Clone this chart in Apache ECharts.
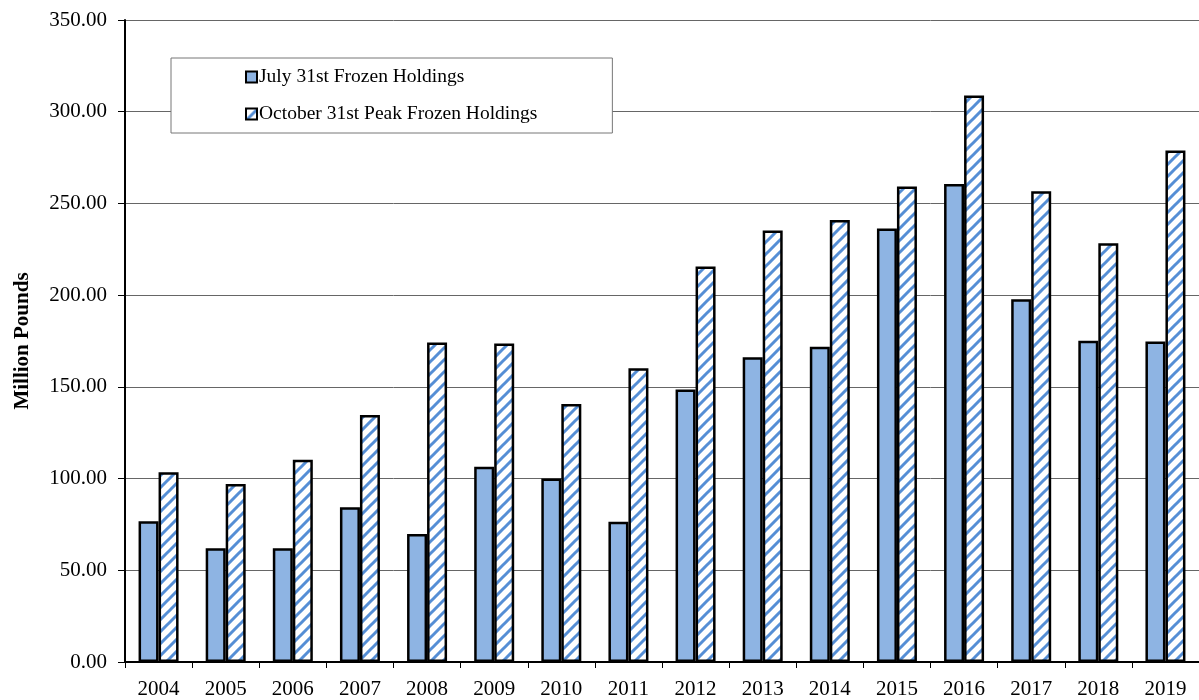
<!DOCTYPE html>
<html>
<head>
<meta charset="utf-8">
<script src="https://cdn.jsdelivr.net/npm/echarts@6/dist/echarts.min.js"></script>
<style>
  html, body { margin: 0; padding: 0; background: #fff; }
  #chart { width: 1199px; height: 700px; }
</style>
</head>
<body>
<div id="chart"></div>
<script>
// data
var years = ['2004', '2005', '2006', '2007', '2008', '2009', '2010', '2011',
             '2012', '2013', '2014', '2015', '2016', '2017', '2018', '2019'];
var july31 = [76.7, 62.0, 62.0, 84.3, 69.8, 106.4, 100.0, 76.5,
              148.5, 166.1, 171.8, 236.3, 260.6, 197.8, 175.2, 174.7];
var oct31 = [103.4, 97.1, 110.3, 134.7, 174.2, 173.6, 140.7, 160.1,
             215.6, 235.2, 241.0, 259.2, 308.8, 256.6, 228.3, 278.8];
var yTicks = [0, 50, 100, 150, 200, 250, 300, 350];

var serif = '"Liberation Serif", "Times New Roman", serif';

// diagonal hatch for the October series
function hatch() {
  var c = document.createElement('canvas');
  c.width = 12; c.height = 12;
  var g = c.getContext('2d');
  g.fillStyle = '#fff';
  g.fillRect(0, 0, 12, 12);
  g.strokeStyle = '#558ed5';
  g.lineWidth = 3;
  g.beginPath();
  g.moveTo(-1, 13); g.lineTo(13, -1);
  g.moveTo(-7, 7); g.lineTo(7, -7);
  g.moveTo(5, 19); g.lineTo(19, 5);
  g.stroke();
  return c;
}

var chart = echarts.init(document.getElementById('chart'));
chart.setOption({
  animation: false,
  grid: { left: 125, right: 0, top: 20, bottom: 38 },
  legend: {
    orient: 'vertical',
    left: 171,
    top: 58,
    padding: [9, 75, 9, 74],
    itemGap: 17,
    itemWidth: 11,
    itemHeight: 11,
    icon: 'rect',
    backgroundColor: '#fff',
    borderColor: '#777',
    borderWidth: 1,
    borderRadius: 0,
    textStyle: { fontFamily: serif, fontSize: 19.5, color: '#000', lineHeight: 20, padding: [0, 0, 0, -3] },
    data: ['July 31st Frozen Holdings', 'October 31st Peak Frozen Holdings']
  },
  xAxis: {
    type: 'category',
    data: years,
    axisLine: { lineStyle: { color: '#000', width: 2 } },
    axisTick: { show: true, length: 6, lineStyle: { color: '#000' } },
    axisLabel: { fontFamily: serif, fontSize: 21, color: '#000', margin: 17 }
  },
  yAxis: {
    type: 'value',
    min: 0,
    max: 350,
    interval: 50,
    name: 'Million Pounds',
    nameLocation: 'middle',
    nameGap: 92,
    nameTextStyle: { fontFamily: serif, fontSize: 21, fontWeight: 'bold', color: '#000' },
    axisLine: { show: true, lineStyle: { color: '#000', width: 2 } },
    axisTick: { show: true, length: 7, lineStyle: { color: '#000' } },
    axisLabel: {
      fontFamily: serif, fontSize: 21, color: '#000', margin: 18,
      formatter: function (v) { return yTicks.indexOf(v) >= 0 ? v.toFixed(2) : ''; }
    },
    splitLine: { lineStyle: { color: '#666', width: 1 } }
  },
  series: [
    {
      name: 'July 31st Frozen Holdings',
      type: 'bar',
      data: july31,
      barWidth: 20,
      barGap: '0%',
      itemStyle: { color: '#8eb4e3', borderColor: '#000', borderWidth: 2.5 }
    },
    {
      name: 'October 31st Peak Frozen Holdings',
      type: 'bar',
      data: oct31,
      barWidth: 20,
      itemStyle: {
        color: { image: hatch(), repeat: 'repeat' },
        borderColor: '#000',
        borderWidth: 2.5
      }
    }
  ]
});
</script>
</body>
</html>
